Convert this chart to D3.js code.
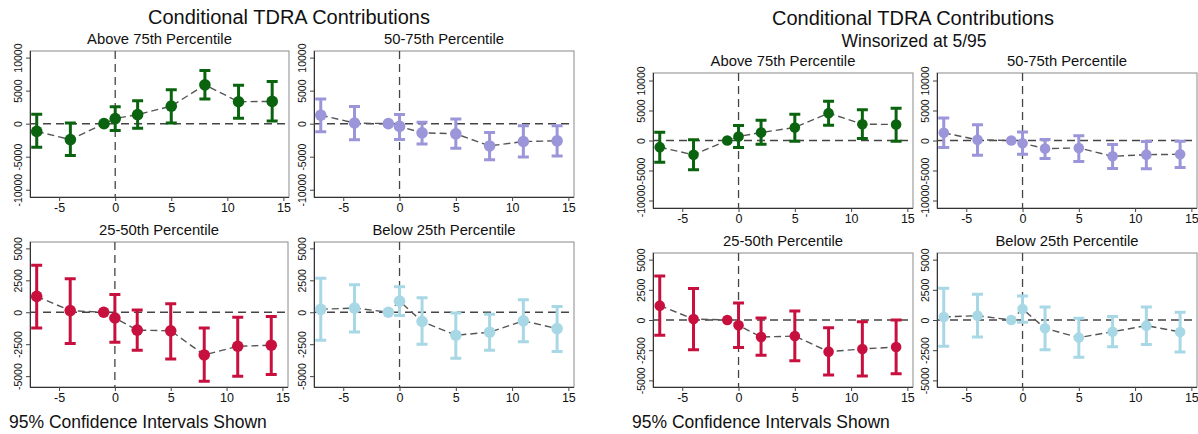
<!DOCTYPE html>
<html>
<head>
<meta charset="utf-8">
<script src="https://cdn.jsdelivr.net/npm/d3@7"></script>
<style>
  body { margin: 0; background: #fff; }
  text { font-family: "Liberation Sans", Arial, sans-serif; fill: #111; }
</style>
</head>
<body>
<svg class="svgChart"></svg>
<script>
// Event time of each estimate.
var periods = [-7, -4, -1, 0, 2, 5, 8, 11, 14];

// Tick labels.
var xTicks = [-5, 0, 5, 10, 15];
var yTicksTop = [-10000, -5000, 0, 5000, 10000];
var yTicksBottom = [-5000, -2500, 0, 2500, 5000];

// Titles.
var mainTitle = "Conditional TDRA Contributions";
var winTitle = "Winsorized at 5/95";
var noteText = "95% Confidence Intervals Shown";
var groupNames = ["Above 75th Percentile", "50-75th Percentile", "25-50th Percentile", "Below 25th Percentile"];

// Left figure, raw values.
var rawAboveEst = [-1170, -2400, 0, 770, 1380, 2650, 5870, 3320, 3370];
var rawAboveLo = [-3570, -4800, 0, -1020, -710, 100, 3720, 820, 410];
var rawAboveHi = [1430, 100, 0, 2550, 3470, 5150, 8060, 5820, 6380];

var rawMidHighEst = [1280, 100, 0, -410, -1380, -1530, -3370, -2700, -2600];
var rawMidHighLo = [-1220, -2450, 0, -2400, -3060, -3720, -5460, -5050, -4900];
var rawMidHighHi = [3720, 2600, 0, 1380, 200, 710, -1330, -310, -310];

var rawMidLowEst = [1240, 130, 0, -450, -1400, -1450, -3340, -2660, -2580];
var rawMidLowLo = [-1240, -2450, 0, -2340, -2970, -3660, -5400, -5000, -4870];
var rawMidLowHi = [3680, 2630, 0, 1390, 180, 660, -1240, -400, -340];

var rawBelowEst = [230, 330, 0, 870, -720, -1800, -1560, -670, -1280];
var rawBelowLo = [-2200, -1540, 0, -260, -2510, -3590, -2970, -2310, -3080];
var rawBelowHi = [2670, 2150, 0, 2000, 1130, -50, -150, 970, 460];

// Right figure, winsorized values.
var winAboveEst = [-1110, -2390, 0, 670, 1330, 2170, 4560, 2720, 2670];
var winAboveLo = [-3610, -4890, 0, -1170, -610, -110, 2560, 330, -110];
var winAboveHi = [1390, 110, 0, 2500, 3390, 4390, 6560, 5110, 5390];

var winMidHighEst = [1290, 110, 0, -450, -1350, -1240, -2640, -2360, -2300];
var winMidHighLo = [-1180, -2470, 0, -2300, -2980, -3480, -4660, -4720, -4490];
var winMidHighHi = [3760, 2640, 0, 1400, 170, 790, -670, -170, -110];

var winMidLowEst = [1190, 80, 0, -440, -1410, -1330, -2620, -2400, -2240];
var winMidLowLo = [-1270, -2460, 0, -2270, -2930, -3370, -4560, -4640, -4450];
var winMidLowHi = [3650, 2600, 0, 1410, 170, 750, -640, -140, 0];

var winBelowEst = [250, 360, 0, 910, -690, -1460, -970, -470, -990];
var winBelowLo = [-2180, -1410, 0, -190, -2460, -3090, -2210, -2020, -2650];
var winBelowHi = [2620, 2130, 0, 1990, 1080, 140, 280, 1080, 640];

var colors = ["#0a640f", "#9b95d9", "#c8103e", "#a8d8e5"];

var width = 1198, height = 434;

var svg = d3.select(".svgChart")
    .attr("width", width)
    .attr("height", height);

// Panel boxes: left, top, width, height, y domain.
var panels = [
    { x: 30, y: 51, w: 259, h: 146, yd: [-11100, 11000], ticks: yTicksTop, r: 5.8, title: 0, est: rawAboveEst, lo: rawAboveLo, hi: rawAboveHi },
    { x: 314, y: 51, w: 260, h: 146, yd: [-11100, 11000], ticks: yTicksTop, r: 5.8, title: 1, est: rawMidHighEst, lo: rawMidHighLo, hi: rawMidHighHi },
    { x: 30, y: 242, w: 258, h: 145, yd: [-5850, 5500], ticks: yTicksBottom, r: 5.8, title: 2, est: rawMidLowEst, lo: rawMidLowLo, hi: rawMidLowHi },
    { x: 314, y: 242, w: 260, h: 145, yd: [-5850, 5500], ticks: yTicksBottom, r: 5.8, title: 3, est: rawBelowEst, lo: rawBelowLo, hi: rawBelowHi },
    { x: 653, y: 73, w: 260, h: 135, yd: [-11250, 11250], ticks: yTicksTop, r: 5.3, title: 0, est: winAboveEst, lo: winAboveLo, hi: winAboveHi },
    { x: 937, y: 73, w: 260, h: 135, yd: [-11250, 11250], ticks: yTicksTop, r: 5.3, title: 1, est: winMidHighEst, lo: winMidHighLo, hi: winMidHighHi },
    { x: 653, y: 253, w: 260, h: 134, yd: [-5550, 5550], ticks: yTicksBottom, r: 5.3, title: 2, est: winMidLowEst, lo: winMidLowLo, hi: winMidLowHi },
    { x: 937, y: 253, w: 260, h: 134, yd: [-5550, 5550], ticks: yTicksBottom, r: 5.3, title: 3, est: winBelowEst, lo: winBelowLo, hi: winBelowHi }
];

// Figure titles.
svg.append("text").attr("x", 289).attr("y", 24)
    .attr("text-anchor", "middle").style("font-size", "20px").text(mainTitle);
svg.append("text").attr("x", 913).attr("y", 25)
    .attr("text-anchor", "middle").style("font-size", "20px").text(mainTitle);
svg.append("text").attr("x", 914).attr("y", 47)
    .attr("text-anchor", "middle").style("font-size", "17.5px").text(winTitle);
svg.append("text").attr("x", 9).attr("y", 428)
    .style("font-size", "17.5px").text(noteText);
svg.append("text").attr("x", 632).attr("y", 428)
    .style("font-size", "17.5px").text(noteText);

panels.forEach(function (p) {
    var color = colors[p.title];
    var g = svg.append("g").attr("transform", "translate(" + p.x + "," + p.y + ")");

    var x = d3.scaleLinear().domain([-7.6, 15.5]).range([0, p.w]);
    var y = d3.scaleLinear().domain(p.yd).range([p.h, 0]);

    var rows = periods.map(function (t, i) {
        return { t: t, est: p.est[i], lo: p.lo[i], hi: p.hi[i] };
    });

    // Panel title.
    g.append("text")
        .attr("x", p.w / 2).attr("y", -7)
        .attr("text-anchor", "middle")
        .style("font-size", "14.8px")
        .text(groupNames[p.title]);

    // Plot outline.
    g.append("rect")
        .attr("width", p.w).attr("height", p.h)
        .attr("fill", "none").attr("stroke", "#8a8a8a").attr("stroke-width", 1);

    // Axes.
    var xAxis = g.append("g").attr("transform", "translate(0," + p.h + ")")
        .call(d3.axisBottom(x).tickValues(xTicks).tickSize(4).tickPadding(2));
    var yAxis = g.append("g")
        .call(d3.axisLeft(y).tickValues(p.ticks).tickSize(4).tickPadding(2).tickSizeOuter(0));
    xAxis.select(".domain").attr("d", "M0,0.5H" + p.w).attr("stroke", "#333");
    yAxis.select(".domain").attr("d", "M0.5,0V" + p.h).attr("stroke", "#333");
    xAxis.selectAll(".tick line").attr("stroke", "#444");
    yAxis.selectAll(".tick line").attr("stroke", "#444");
    xAxis.selectAll("text")
        .style("font-size", "12.5px")
        .style("font-family", "'Liberation Sans', Arial, sans-serif")
        .attr("fill", "#111")
        .text(function (d) { return d < 0 ? "-" + (-d) : d; });
    yAxis.selectAll(".tick text")
        .style("font-size", "10.5px")
        .style("font-family", "'Liberation Sans', Arial, sans-serif")
        .attr("fill", "#111")
        .attr("x", null).attr("dy", null)
        .attr("text-anchor", "middle")
        .attr("transform", "translate(-8,0) rotate(-90)")
        .text(function (d) { return d < 0 ? "-" + (-d) : d; });

    // Reference lines at zero.
    g.append("line")
        .attr("x1", 0).attr("x2", p.w)
        .attr("y1", y(0)).attr("y2", y(0))
        .attr("stroke", "#444").attr("stroke-width", 1.5)
        .attr("stroke-dasharray", "8,5");
    g.append("line")
        .attr("x1", x(0)).attr("x2", x(0))
        .attr("y1", 0).attr("y2", p.h)
        .attr("stroke", "#444").attr("stroke-width", 1.3)
        .attr("stroke-dasharray", "8,5");

    // Dashed line joining the estimates.
    var line = d3.line()
        .x(function (d) { return x(d.t); })
        .y(function (d) { return y(d.est); });
    g.append("path")
        .datum(rows)
        .attr("d", line)
        .attr("fill", "none")
        .attr("stroke", "#555").attr("stroke-width", 1.4)
        .attr("stroke-dasharray", "7,4");

    // Confidence intervals, skipping the reference period.
    g.selectAll(".ci")
        .data(rows.filter(function (d) { return d.hi !== d.lo; }))
        .enter()
        .append("path")
        .attr("class", "ci")
        .attr("fill", "none")
        .attr("stroke", color)
        .attr("stroke-width", 3)
        .attr("d", function (d) {
            var cx = x(d.t), c = 5.5;
            return "M" + (cx - c) + "," + y(d.hi) + "H" + (cx + c) +
                "M" + cx + "," + y(d.hi) + "V" + y(d.lo) +
                "M" + (cx - c) + "," + y(d.lo) + "H" + (cx + c);
        });

    // Point estimates.
    g.selectAll(".dot")
        .data(rows)
        .enter()
        .append("circle")
        .attr("class", "dot")
        .attr("cx", function (d) { return x(d.t); })
        .attr("cy", function (d) { return y(d.est); })
        .attr("r", p.r)
        .attr("fill", color);
});
</script>
</body>
</html>
